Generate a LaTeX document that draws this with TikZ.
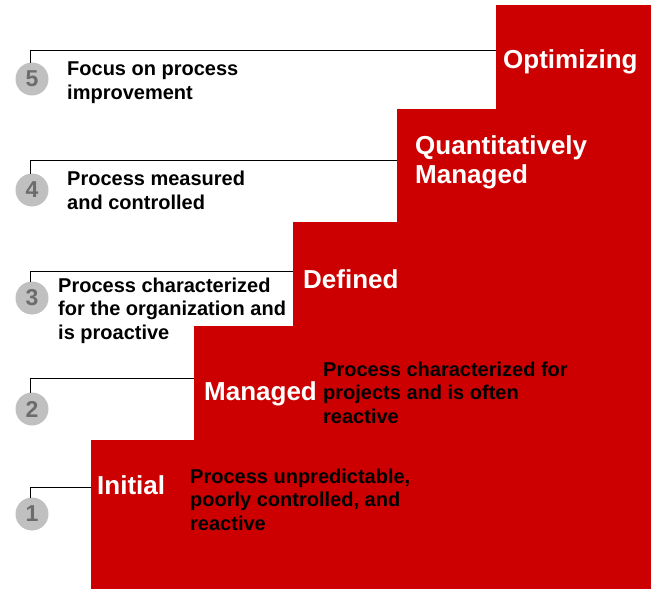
\documentclass[tikz,border=0pt]{standalone}
\usepackage{fontspec}
\setmainfont{Liberation Sans}
\definecolor{stepred}{RGB}{204,0,0}
\definecolor{circgray}{RGB}{192,192,192}
\definecolor{numgray}{RGB}{108,108,108}
\begin{document}
\begin{tikzpicture}[x=1pt,y=-1pt,
  stepbox/.style={fill=stepred, draw=none, inner sep=0pt, outer sep=0pt, anchor=north west},
  numcirc/.style={circle, fill=circgray, draw=none, minimum size=33pt, inner sep=0pt, outer sep=0pt,
    text=numgray, font=\bfseries\fontsize{23}{23}\selectfont},
  desc/.style={anchor=base west, align=left, inner sep=0pt, text=black,
    font=\bfseries\fontsize{20}{23.5}\selectfont},
  title/.style={anchor=base west, align=left, inner sep=0pt, text=white,
    font=\bfseries\fontsize{26}{29}\selectfont},
  conn/.style={draw=black, line width=1pt}]
\useasboundingbox (0,0) rectangle (654,589);

% staircase steps
\node[stepbox, minimum width=560pt, minimum height=149pt] (s1) at (91,440) {};
\node[stepbox, minimum width=457pt, minimum height=263pt] (s2) at (194,326) {};
\node[stepbox, minimum width=358pt, minimum height=367pt] (s3) at (293,222) {};
\node[stepbox, minimum width=254pt, minimum height=480pt] (s4) at (397,109) {};
\node[stepbox, minimum width=155pt, minimum height=584pt] (s5) at (496,5) {};

% level heights of connectors
\coordinate (k1) at (0,487);
\coordinate (k2) at (0,378);
\coordinate (k3) at (0,271);
\coordinate (k4) at (0,160);
\coordinate (k5) at (0,50);

% circles
\node[numcirc] (c1) at (32,514) {1};
\node[numcirc] (c2) at (32,409) {2};
\node[numcirc] (c3) at (32,298) {3};
\node[numcirc] (c4) at (32,190) {4};
\node[numcirc] (c5) at (32,79) {5};

% connectors
\foreach \i in {1,...,5}{
  \draw[conn] ([xshift=-2pt]c\i.north) |- (s\i.west |- k\i);
}

% titles (base anchor = baseline of last line)
\node[title] (t5) at (503,68) {Optimizing};
\node[title] (t4) at (415,183) {Quantitatively\\Managed};
\node[title] (t3) at (303,288) {Defined};
\node[title] (t2) at (204,400) {Managed};
\node[title] (t1) at (97,494) {Initial};

% descriptions (base anchor = baseline of last line)
\node[desc] (d5) at (67,99) {Focus on process\\improvement};
\node[desc] (d4) at (67,209) {Process measured\\and controlled};
\node[desc] (d3) at (58,339) {Process characterized\\for the organization and\\is proactive};
\node[desc] (d2) at (323,423) {Process characterized for\\projects and is often\\reactive};
\node[desc] (d1) at (190,530) {Process unpredictable,\\poorly controlled, and\\reactive};
\end{tikzpicture}
\end{document}
